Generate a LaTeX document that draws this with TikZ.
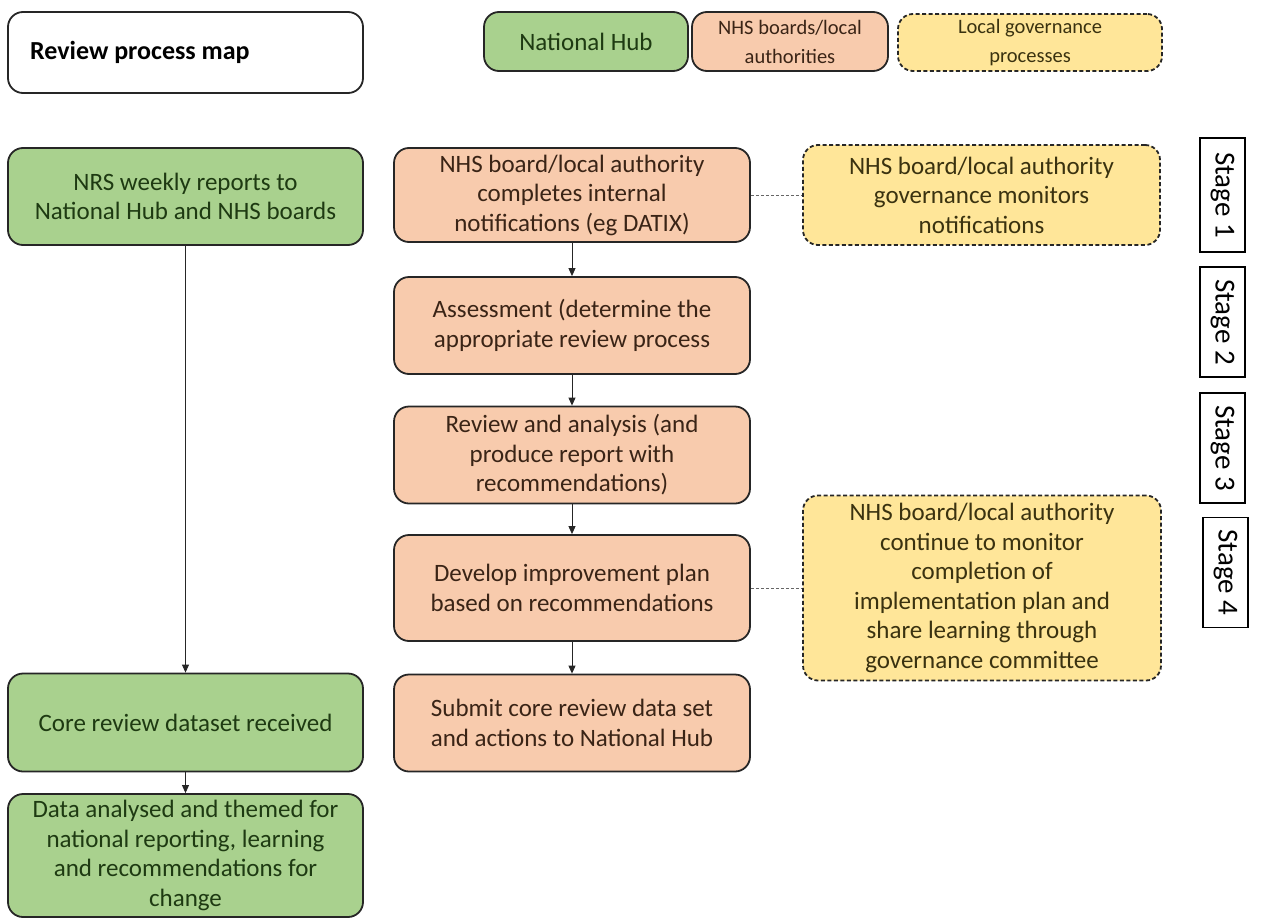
\documentclass[tikz,border=0pt]{standalone}
\usepackage{fontspec}
\setmainfont{Carlito}
\usetikzlibrary{arrows.meta}
\definecolor{gfill}{HTML}{A9D18E}
\definecolor{ofill}{HTML}{F8CBAD}
\definecolor{yfill}{HTML}{FFE699}
\definecolor{gtext}{HTML}{1E3A12}
\definecolor{otext}{HTML}{3A2416}
\definecolor{ytext}{HTML}{3A3210}
\definecolor{edge}{HTML}{262626}
\tikzset{
  x=1pt, y=-1pt,
  base/.style={draw=edge, line width=1.8pt, rounded corners=15pt, align=center, font=\fontsize{25}{29.5}\selectfont, inner sep=2pt},
  gbox/.style={base, fill=gfill, text=gtext},
  obox/.style={base, fill=ofill, text=otext},
  ybox/.style={base, fill=yfill, text=ytext, dash pattern=on 4pt off 2.5pt},
  legsmall/.style={font=\fontsize{20.5}{29}\selectfont},
  stagebox/.style={draw=black, line width=1.3pt, fill=white, font=\fontsize{29}{32}\selectfont, minimum width=45pt, minimum height=110pt, inner sep=0pt},
  arr/.style={draw=edge, line width=0.9pt, -{Triangle[length=8pt,width=7pt]}},
  dline/.style={draw=gray!80!black, line width=0.9pt, dash pattern=on 3pt off 2pt},
}
\begin{document}
\begin{tikzpicture}
\useasboundingbox (0,0) rectangle (1271,918);
% title and legend
\node[base, fill=white, minimum width=355pt, minimum height=81pt] (title) at (185.5,52.5) {};
\node[anchor=west, inner sep=0pt, font=\fontsize{26}{30}\bfseries\selectfont, text=black] (titletext) at (30,52.5) {Review process map};
\node[gbox, minimum width=204pt, minimum height=59pt] (lg) at (586,41.5) {National Hub};
\node[obox, legsmall, minimum width=196pt, minimum height=59pt] (lo) at (790,41.5) {NHS boards/local\\authorities};
\node[ybox, legsmall, minimum width=264pt, minimum height=57pt] (ly) at (1030,42.5) {Local governance\\processes};
% left column
\node[gbox, minimum width=355pt, minimum height=97pt] (nrs) at (185.5,196.5) {NRS weekly reports to\\National Hub and NHS boards};
\node[gbox, minimum width=355pt, minimum height=98pt] (core) at (185.5,722.5) {Core review dataset received};
\node[gbox, minimum width=355pt, minimum height=123pt] (data) at (185.5,855.5) {Data analysed and themed for\\national reporting, learning\\and recommendations for\\change};
% middle column
\node[obox, minimum width=356pt, minimum height=94pt] (s1) at (572,195) {NHS board/local authority\\completes internal\\notifications (eg DATIX)};
\node[obox, minimum width=356pt, minimum height=97pt] (s2) at (572,325.5) {Assessment (determine the\\appropriate review process};
\node[obox, minimum width=356pt, minimum height=97pt] (s3) at (572,455) {Review and analysis (and\\produce report with\\recommendations)};
\node[obox, minimum width=356pt, minimum height=106pt] (s4) at (572,588) {Develop improvement plan\\based on recommendations};
\node[obox, minimum width=356pt, minimum height=97pt] (s5) at (572,723) {Submit core review data set\\and actions to National Hub};
% right column
\node[ybox, minimum width=357pt, minimum height=100pt] (g1) at (981.5,195) {NHS board/local authority\\governance monitors\\notifications};
\node[ybox, minimum width=358pt, minimum height=185pt] (g2) at (982,588) {NHS board/local authority\\continue to monitor\\completion of\\implementation plan and\\share learning through\\governance committee};
% stages
\node[stagebox, minimum height=114pt] (st1) at (1222.5,195) {\rotatebox{-90}{Stage 1}};
\node[stagebox] (st2) at (1222.5,322) {\rotatebox{-90}{Stage 2}};
\node[stagebox] (st3) at (1222.5,448) {\rotatebox{-90}{Stage 3}};
\node[stagebox] (st4) at (1225.5,572.5) {\rotatebox{-90}{Stage 4}};
% connectors
\draw[arr] (nrs) -- (core);
\draw[arr] (core) -- (data);
\draw[arr] (s1) -- (s2);
\draw[arr] (s2) -- (s3);
\draw[arr] (s3) -- (s4);
\draw[arr] (s4) -- (s5);
\draw[dline] (s1.east) -- (g1.west);
\draw[dline] (s4.east) -- (g2.west);
\end{tikzpicture}
\end{document}
